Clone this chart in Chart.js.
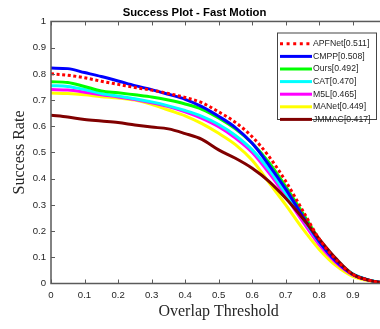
<!DOCTYPE html>
<html>
<head>
<meta charset="utf-8">
<script src="https://cdn.jsdelivr.net/npm/chart.js@4/dist/chart.umd.min.js"></script>
<style>
    html, body { margin: 0; padding: 0; background: #fff; overflow: hidden; }
    #wrap { width: 380px; height: 329px; overflow: hidden; }
</style>
</head>
<body>
<div id="wrap"><canvas id="successChart" width="395" height="329"></canvas></div>
<script>
// Overlap thresholds (x) and success rate of each tracker
const thresholds = [0, 0.05, 0.1, 0.15, 0.2, 0.25, 0.3, 0.35, 0.4, 0.45, 0.5,
    0.55, 0.6, 0.65, 0.7, 0.75, 0.8, 0.85, 0.9, 0.95, 1.0];

const trackers = ["APFNet[0.511]", "CMPP[0.508]", "Ours[0.492]", "CAT[0.470]",
    "M5L[0.465]", "MANet[0.449]", "JMMAC[0.417]"];

const apfnet = [0.800, 0.795, 0.785, 0.772, 0.760, 0.748, 0.738, 0.725, 0.710, 0.690, 0.655,
    0.615, 0.560, 0.485, 0.390, 0.280, 0.170, 0.090, 0.035, 0.012, 0.000];
const cmpp = [0.822, 0.820, 0.805, 0.790, 0.773, 0.755, 0.740, 0.722, 0.703, 0.675, 0.638,
    0.595, 0.535, 0.452, 0.360, 0.258, 0.160, 0.085, 0.035, 0.012, 0.000];
const ours = [0.770, 0.767, 0.752, 0.735, 0.728, 0.720, 0.712, 0.700, 0.685, 0.665, 0.632,
    0.590, 0.535, 0.462, 0.370, 0.270, 0.168, 0.090, 0.035, 0.012, 0.000];
const cat = [0.755, 0.752, 0.740, 0.725, 0.715, 0.705, 0.693, 0.678, 0.660, 0.638, 0.607,
    0.565, 0.510, 0.435, 0.345, 0.250, 0.158, 0.088, 0.037, 0.013, 0.000];
const m5l = [0.740, 0.738, 0.730, 0.720, 0.712, 0.702, 0.690, 0.675, 0.655, 0.630, 0.598,
    0.555, 0.500, 0.422, 0.333, 0.238, 0.148, 0.080, 0.033, 0.012, 0.000];
const manet = [0.727, 0.725, 0.720, 0.713, 0.708, 0.700, 0.684, 0.662, 0.640, 0.610, 0.573,
    0.530, 0.470, 0.385, 0.300, 0.210, 0.130, 0.068, 0.027, 0.010, 0.000];
const jmmac = [0.642, 0.635, 0.626, 0.620, 0.614, 0.605, 0.597, 0.590, 0.572, 0.550, 0.510,
    0.478, 0.440, 0.390, 0.325, 0.250, 0.170, 0.095, 0.035, 0.012, 0.000];

const seriesValues = [apfnet, cmpp, ours, cat, m5l, manet, jmmac];
const colors = ["#ff0000", "#0000ff", "#00ff00", "#00ffff", "#ff00ff", "#ffff00", "#800000"];
const drawOrder = [0, 2, 3, 4, 5, 6, 1];

const axisColor = "#5a5a5a";
const textColor = "#262626";

function toPoints(values) {
    return values.map((v, i) => ({ x: thresholds[i], y: v }));
}

const datasets = trackers.map((name, i) => ({
    label: name,
    data: toPoints(seriesValues[i]),
    borderColor: colors[i],
    backgroundColor: colors[i],
    borderWidth: 3,
    borderDash: i === 0 ? [3, 2.6] : [],
    borderCapStyle: "butt",
    pointRadius: 0,
    cubicInterpolationMode: "monotone",
    fill: false,
    order: drawOrder[i],
}));

// Box, inward ticks and the legend box inside the plot
const framePlugin = {
    id: "frame",
    afterDatasetsDraw(chart) {
        const ctx = chart.ctx;
        const area = chart.chartArea;
        const xs = chart.scales.x;
        const ys = chart.scales.y;
        ctx.save();
        ctx.strokeStyle = axisColor;
        ctx.lineWidth = 1.5;
        ctx.strokeRect(area.left, area.top, area.right - area.left, area.bottom - area.top);

        ctx.lineWidth = 1;
        const tl = 4;
        ctx.beginPath();
        xs.ticks.forEach((t) => {
            const px = Math.round(xs.getPixelForValue(t.value)) + 0.5;
            ctx.moveTo(px, area.bottom);
            ctx.lineTo(px, area.bottom - tl);
            ctx.moveTo(px, area.top);
            ctx.lineTo(px, area.top + tl);
        });
        ys.ticks.forEach((t) => {
            const py = Math.round(ys.getPixelForValue(t.value)) + 0.5;
            ctx.moveTo(area.left, py);
            ctx.lineTo(area.left + tl, py);
            ctx.moveTo(area.right, py);
            ctx.lineTo(area.right - tl, py);
        });
        ctx.stroke();

        // legend
        const bx = 277, by = 32.5, bw = 100, bh = 87.5;
        ctx.fillStyle = "#fff";
        ctx.fillRect(bx, by, bw, bh);
        ctx.strokeStyle = "#444";
        ctx.lineWidth = 1;
        ctx.strokeRect(bx + 0.5, by + 0.5, bw - 1, bh - 1);
        ctx.font = "8.7px 'Liberation Sans', Arial, sans-serif";
        ctx.textBaseline = "middle";
        ctx.textAlign = "left";
        chart.data.datasets.forEach((ds, i) => {
            const ry = by + 5 + 6.3 + i * 12.6;
            ctx.strokeStyle = ds.borderColor;
            ctx.lineWidth = 3;
            ctx.setLineDash(ds.borderDash.length ? [3, 3.6] : []);
            ctx.beginPath();
            ctx.moveTo(280, ry);
            ctx.lineTo(312, ry);
            ctx.stroke();
            ctx.setLineDash([]);
            ctx.fillStyle = textColor;
            ctx.fillText(ds.label, 313, ry);
        });
        ctx.restore();
    },
};

new Chart(document.getElementById("successChart"), {
    type: "line",
    data: { datasets: datasets },
    options: {
        responsive: false,
        animation: false,
        layout: { padding: { left: 0, right: 6, top: 0, bottom: 0 } },
        plugins: {
            legend: { display: false },
            tooltip: { enabled: false },
            title: {
                display: true,
                text: "Success Plot - Fast Motion",
                color: "#000",
                font: { family: "'Liberation Sans', Arial, sans-serif", size: 11.3, weight: "bold", lineHeight: 1.2 },
                padding: { top: 6.2, bottom: 1.7 },
            },
        },
        scales: {
            x: {
                type: "linear",
                min: 0,
                max: 1,
                afterFit: (scale) => { scale.height = 45.5; },
                grid: { display: false, drawTicks: false },
                border: { display: false },
                ticks: {
                    stepSize: 0.1,
                    padding: 6,
                    color: textColor,
                    font: { family: "'Liberation Sans', Arial, sans-serif", size: 9.6 },
                    callback: (v) => Number(v.toFixed(1)).toString(),
                },
                title: {
                    display: true,
                    text: "Overlap Threshold",
                    color: textColor,
                    font: { family: "'Liberation Serif', 'Times New Roman', serif", size: 16 },
                    padding: { top: 0, bottom: 7.5 },
                },
            },
            y: {
                min: 0,
                max: 1,
                afterFit: (scale) => { scale.width = 51; },
                grid: { display: false, drawTicks: false },
                border: { display: false },
                ticks: {
                    stepSize: 0.1,
                    padding: 5,
                    color: textColor,
                    font: { family: "'Liberation Sans', Arial, sans-serif", size: 9.6 },
                    callback: (v) => Number(v.toFixed(1)).toString(),
                },
                title: {
                    display: true,
                    text: "Success Rate",
                    color: textColor,
                    font: { family: "'Liberation Serif', 'Times New Roman', serif", size: 16 },
                    padding: { top: 10, bottom: 0 },
                },
            },
        },
    },
    plugins: [framePlugin],
});
</script>
</body>
</html>
